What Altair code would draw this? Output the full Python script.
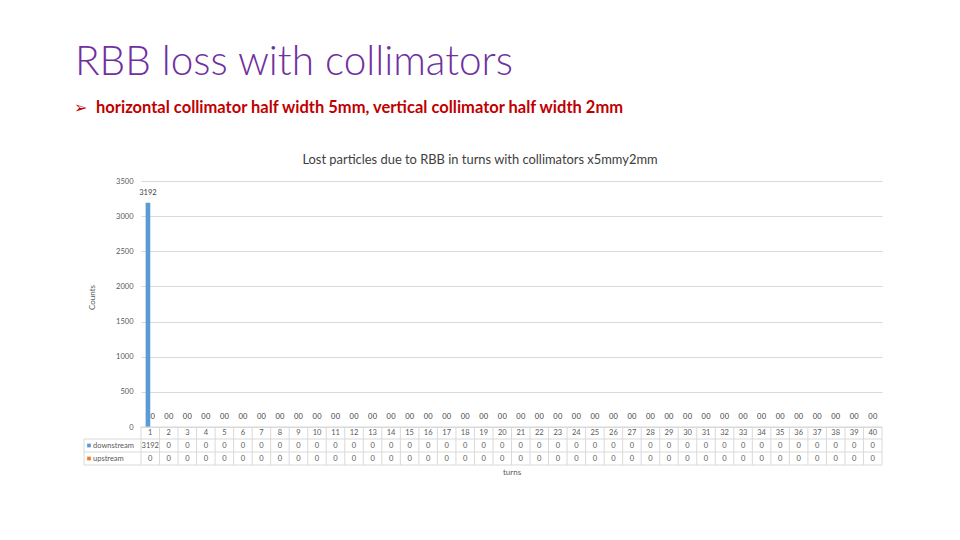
import altair as alt
import pandas as pd

# ---- data ----
turns = list(range(1, 41))
downstream = [3192, 0, 0, 0, 0, 0, 0, 0, 0, 0,
              0, 0, 0, 0, 0, 0, 0, 0, 0, 0,
              0, 0, 0, 0, 0, 0, 0, 0, 0, 0,
              0, 0, 0, 0, 0, 0, 0, 0, 0, 0]
upstream = [0, 0, 0, 0, 0, 0, 0, 0, 0, 0,
            0, 0, 0, 0, 0, 0, 0, 0, 0, 0,
            0, 0, 0, 0, 0, 0, 0, 0, 0, 0,
            0, 0, 0, 0, 0, 0, 0, 0, 0, 0]
series_names = ["downstream", "upstream"]
series_colors = ["#5B9BD5", "#ED7D31"]
y_ticks = [0, 500, 1000, 1500, 2000, 2500, 3000, 3500]

main_title = "RBB loss with collimators"
bullet_text = "horizontal collimator half width 5mm, vertical collimator half width 2mm"
chart_title = "Lost particles due to RBB in turns with collimators x5mmy2mm"

# ---- layout (pixels) ----
W, H = 741, 246
ROW1, ROW2, ROW3, ROW4 = H, 258, 271, 284  # table horizontal lines
LEFTCOL = -57
FONT = "Lato"
GRID = "#D9D9D9"
TXT = "#595959"

long = pd.DataFrame({
    "turn": turns * 2,
    "series": [series_names[0]] * len(turns) + [series_names[1]] * len(turns),
    "value": downstream + upstream,
})
turn_df = pd.DataFrame({"turn": turns})
one = pd.DataFrame({"a": [0]})

x_enc = alt.X("turn:O", scale=alt.Scale(paddingInner=0, paddingOuter=0),
              axis=alt.Axis(labels=False, ticks=False, domain=False, grid=False,
                            title="turns", titleFont=FONT, titleFontSize=8,
                            titleFontWeight="normal", titleColor=TXT,
                            titleY=45, titleBaseline="middle"))
x_plain = alt.X("turn:O")
xoff = alt.XOffset("series:N", scale=alt.Scale(domain=series_names, paddingInner=0, paddingOuter=1))
y_enc = alt.Y("value:Q", scale=alt.Scale(domain=[0, 3500], nice=False),
              axis=alt.Axis(values=y_ticks, format="d", labelOverlap=False,
                            domain=False, ticks=False, labelPadding=8,
                            labelFont=FONT, labelFontSize=7.5, labelColor=TXT,
                            gridColor=GRID, title="Counts", titleFont=FONT,
                            titleFontSize=8, titleFontWeight="normal", titleColor=TXT,
                            titleX=-49, titleY=116, titleAngle=270,
                            titleAlign="center", titleBaseline="middle"))
color = alt.Color("series:N", scale=alt.Scale(domain=series_names, range=series_colors), legend=None)

bars = alt.Chart(long).mark_bar().encode(x=x_enc, xOffset=xoff, y=y_enc, color=color)
labels = alt.Chart(long).mark_text(dy=-10, font=FONT, fontSize=7.5, color="#404040").encode(
    x=x_enc, xOffset=xoff, y=y_enc, text=alt.Text("value:Q", format="d"))

# ---- data table under the plot ----
header = alt.Chart(turn_df).mark_text(font=FONT, fontSize=7.5, color=TXT).encode(
    x=x_enc, y=alt.value((ROW1 + ROW2) / 2), text="turn:O")
row_down = alt.Chart(long).transform_filter(alt.datum.series == series_names[0]).mark_text(
    font=FONT, fontSize=7.5, color=TXT).encode(
    x=x_enc, y=alt.value((ROW2 + ROW3) / 2), text=alt.Text("value:Q", format="d"))
row_up = alt.Chart(long).transform_filter(alt.datum.series == series_names[1]).mark_text(
    font=FONT, fontSize=7.5, color=TXT).encode(
    x=x_enc, y=alt.value((ROW3 + ROW4) / 2), text=alt.Text("value:Q", format="d"))

vlines = alt.Chart(turn_df).mark_rule(color=GRID, strokeWidth=1).encode(
    x=alt.X("turn:O", bandPosition=0), y=alt.value(ROW1), y2=alt.value(ROW4))


def hrule(y, x1, x2):
    return alt.Chart(one).mark_rule(color=GRID, strokeWidth=1).encode(
        x=alt.value(x1), x2=alt.value(x2), y=alt.value(y))


def vrule(x, y1, y2):
    return alt.Chart(one).mark_rule(color=GRID, strokeWidth=1).encode(
        x=alt.value(x), y=alt.value(y1), y2=alt.value(y2))


table_lines = [
    hrule(ROW1, 0, W), hrule(ROW2, LEFTCOL, W), hrule(ROW3, LEFTCOL, W), hrule(ROW4, LEFTCOL, W),
    vrule(W, ROW1, ROW4), vrule(LEFTCOL, ROW2, ROW4),
]

legend_df = pd.DataFrame({"series": series_names})
leg_marks = []
for i, name in enumerate(series_names):
    yy = (ROW2 + ROW3) / 2 if i == 0 else (ROW3 + ROW4) / 2
    leg_marks.append(alt.Chart(legend_df).transform_filter(alt.datum.series == name).mark_square(
        size=14, opacity=1).encode(x=alt.value(LEFTCOL + 5), y=alt.value(yy), color=color))
    leg_marks.append(alt.Chart(legend_df).transform_filter(alt.datum.series == name).mark_text(
        align="left", font=FONT, fontSize=7.5, color=TXT).encode(
        x=alt.value(LEFTCOL + 9), y=alt.value(yy), text="series:N"))

# ---- slide titles ----
t_main = alt.Chart(pd.DataFrame({"t": [main_title]})).mark_text(
    align="left", baseline="alphabetic", font=FONT, fontSize=40.5, fontWeight=300,
    color="#7030A0").encode(x=alt.value(-66), y=alt.value(-106), text="t:N")
t_bullet = alt.Chart(pd.DataFrame({"t": ["\u27A2"]})).mark_text(
    align="left", baseline="alphabetic", font="DejaVu Sans", fontSize=16,
    color="#C00000").encode(x=alt.value(-67), y=alt.value(-68), text="t:N")
t_sub = alt.Chart(pd.DataFrame({"t": [bullet_text]})).mark_text(
    align="left", baseline="alphabetic", font=FONT, fontSize=16.5, fontWeight="bold",
    color="#C00000").encode(x=alt.value(-45), y=alt.value(-68), text="t:N")
t_chart = alt.Chart(pd.DataFrame({"t": [chart_title]})).mark_text(
    align="center", baseline="alphabetic", font=FONT, fontSize=12.9,
    color="#404040").encode(x=alt.value(339), y=alt.value(-17), text="t:N")

chart = alt.layer(
    bars, *table_lines, vlines, labels, header, row_down, row_up, *leg_marks,
    t_main, t_bullet, t_sub, t_chart,
).properties(
    width=W, height=H,
    autosize=alt.AutoSizeParams(type="none"),
    padding={"left": 133, "top": 173, "right": 70, "bottom": 100},
    background="white",
).configure_view(stroke=None)

chart.save("out.html", embed_options={"renderer": "svg", "actions": False})
